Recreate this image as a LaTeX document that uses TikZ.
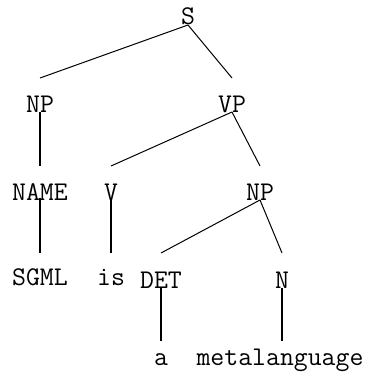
\documentclass[tikz,border=0pt]{standalone}
\usetikzlibrary{calc}
\begin{document}
\begin{tikzpicture}[x=0.5pt,y=-0.5pt,
  lab/.style={anchor=base,inner sep=0pt,font=\fontsize{13.5}{16}\selectfont\ttfamily},
  branch/.style={line width=0.5pt},
  unary/.style={line width=1.4pt}]
\useasboundingbox (0,0) rectangle (366,380);
% labels, placed on their baselines
\node[lab] (S)    at (188,25)  {S};
\node[lab] (NPa)  at (40,112)  {NP};
\node[lab] (VP)   at (232,112) {VP};
\node[lab] (NAME) at (40,200)  {NAME};
\node[lab] (V)    at (111,200) {V};
\node[lab] (NPb)  at (260,200) {NP};
\node[lab] (SGML) at (40,285)  {SGML};
\node[lab] (is)   at (111,285) {is};
\node[lab] (DET)  at (161,288) {DET};
\node[lab] (N)    at (282,288) {N};
\node[lab] (a)    at (161,365) {a};
\node[lab] (meta) at (280,365) {metalanguage};
% branching edges
\draw[branch] (S.base) -- ($(NPa.base)+(0,-34)$);
\draw[branch] (S.base) -- ($(VP.base)+(0,-34)$);
\draw[branch] (VP.base) -- ($(V.base)+(0,-34)$);
\draw[branch] (VP.base) -- ($(NPb.base)+(0,-34)$);
\draw[branch] (NPb.base) -- ($(DET.base)+(0,-35)$);
\draw[branch] (NPb.base) -- ($(N.base)+(0,-35)$);
% unary edges
\draw[unary] ($(NPa.base)+(0,0)$) -- ($(NAME.base)+(0,-34)$);
\draw[unary] ($(NAME.base)+(0,-2)$) -- ($(SGML.base)+(0,-32)$);
\draw[unary] ($(V.base)+(0,-2)$) -- ($(is.base)+(0,-32)$);
\draw[unary] (DET.base) -- ($(a.base)+(0,-24)$);
\draw[unary] (N.base) -- ($(N.base)+(0,53)$);
\end{tikzpicture}
\end{document}
